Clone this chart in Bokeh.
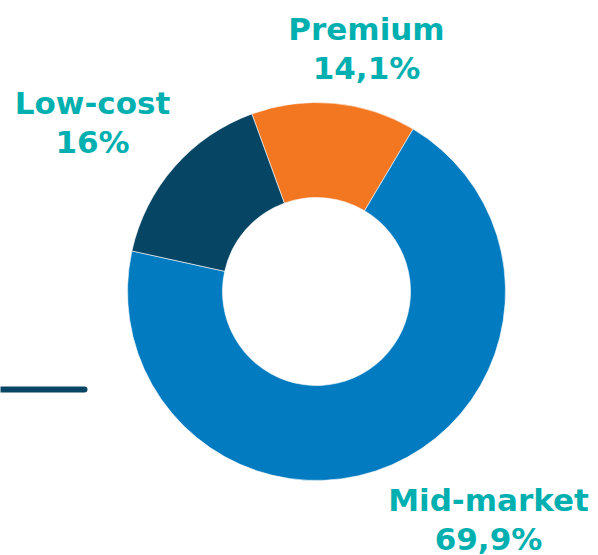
import math
from bokeh.plotting import figure
from bokeh.models import Range1d, ColumnDataSource
from bokeh.core.properties import value
from bokeh.embed import file_html
from bokeh.resources import INLINE

categories = ["Premium", "Mid-market", "Low-cost"]
shares = [14.1, 69.9, 16.0]
share_labels = ["14,1%", "69,9%", "16%"]
colors = ["#F37721", "#027BC0", "#074565"]

W, H = 598, 555
p = figure(width=W, height=H, output_backend="svg", toolbar_location=None,
           x_range=Range1d(0, W), y_range=Range1d(0, H),
           min_border=0, outline_line_color=None, background_fill_color="white")
p.axis.visible = False
p.grid.visible = False

cx, cy = 316, H - 291
start_cw = -20.0  # degrees clockwise from north
starts, ends = [], []
acc = start_cw
total = sum(shares)
for s in shares:
    a0 = math.radians(90 - acc)
    acc += s / total * 360
    a1 = math.radians(90 - acc)
    starts.append(a0)
    ends.append(a1)

src = ColumnDataSource(dict(start=starts, end=ends, color=colors))
p.annular_wedge(x=cx, y=cy, inner_radius=94, outer_radius=189,
                start_angle="start", end_angle="end", direction="clock",
                fill_color="color", line_color="white", line_width=0.6, source=src)

# decorative line
p.line(x=[0, 84], y=[H - 389, H - 389], line_color="#074565", line_width=6, line_cap="round")

label_pos = {"Premium": (366, 28), "Mid-market": (488, 499), "Low-cost": (92, 102)}
teal = "#00AFAF"
for cat, lab in zip(categories, share_labels):
    x, y = label_pos[cat]
    p.text(x=[x], y=[H - y], text=[cat], text_font=value("DejaVu Sans"), text_font_style="bold",
           text_font_size="31px", text_color=teal, text_align="center", text_baseline="middle")
    p.text(x=[x], y=[H - y - 39], text=[lab], text_font=value("DejaVu Sans"), text_font_style="bold",
           text_font_size="31px", text_color=teal, text_align="center", text_baseline="middle")

open("out.html", "w").write(file_html(p, INLINE))
